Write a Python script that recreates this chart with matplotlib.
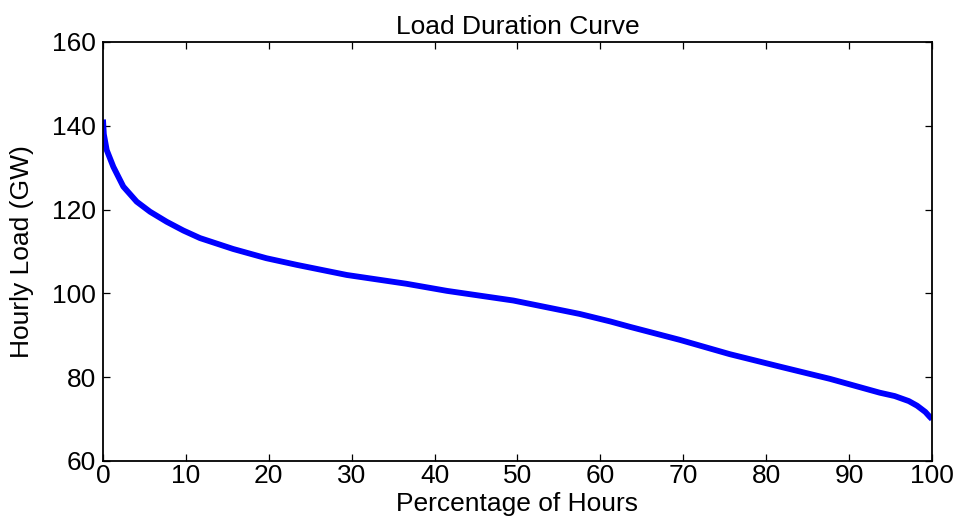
import matplotlib
matplotlib.use("Agg")
import matplotlib.pyplot as plt

# Data
pct_hours = [0, 0.1, 0.45, 1.25, 2.45, 4.06, 5.67, 7.68, 9.7, 11.7, 15.7, 19.7, 23.4,
             29.4, 36.6, 41.5, 49.5, 57.5, 61.2, 63.6, 69.6, 75.6, 81.7, 87.7,
             93.7, 95.5, 97.2, 98.2, 99.2, 99.7, 100]
load_gw = [141.5, 138.0, 134.2, 130.2, 125.5, 121.9, 119.5, 117.1, 115.0, 113.2, 110.6,
           108.4, 106.8, 104.4, 102.3, 100.6, 98.3, 95.1, 93.3, 92.0, 88.9, 85.5,
           82.5, 79.6, 76.3, 75.5, 74.3, 73.2, 71.7, 70.6, 70.0]
xticks = [0, 10, 20, 30, 40, 50, 60, 70, 80, 90, 100]
yticks = [60, 80, 100, 120, 140, 160]

plt.rcParams['font.family'] = ['Liberation Sans', 'DejaVu Sans']

fig = plt.figure(figsize=(9.54, 5.31), dpi=100)
ax = fig.add_axes([103/954, 1 - 461/531, (932-103)/954, (461-42)/531])

ax.plot(pct_hours, load_gw, color=(0, 0, 1), linewidth=4.2, solid_capstyle='butt')

ax.set_xlim(0, 100)
ax.set_ylim(60, 160)
ax.set_xticks(xticks)
ax.set_yticks(yticks)
ax.tick_params(direction='in', length=5, width=0.9, top=True, right=True,
               labelsize=19, colors='black')
ax.tick_params(axis='x', pad=2)
ax.tick_params(axis='y', pad=5)
for s in ax.spines.values():
    s.set_linewidth(1.3)

ax.set_title('Load Duration Curve', fontsize=19, pad=6)
ax.set_xlabel('Percentage of Hours', fontsize=19, labelpad=3)
ax.set_ylabel('Hourly Load (GW)', fontsize=19, labelpad=13)

fig.savefig('out.png', dpi=100)
